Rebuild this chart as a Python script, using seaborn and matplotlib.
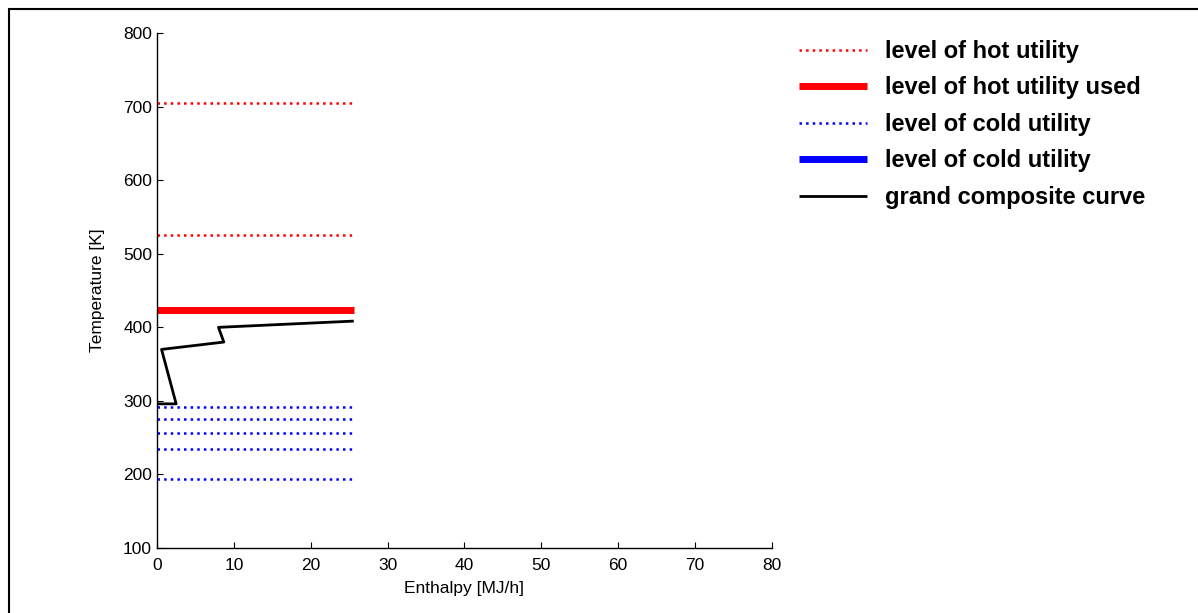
import numpy as np
import matplotlib
matplotlib.use("Agg")
import matplotlib.pyplot as plt
import seaborn as sns
from matplotlib.patches import Rectangle

# =========================
# DATA
# =========================

q_max = 25.6
hot_levels = [705, 525]
hot_used = 423
cold_levels = [292, 275, 256, 234, 194]

gcc_enthalpy = [0.0, 2.5, 0.6, 8.7, 8.0, 25.6]
gcc_temp = [296, 296, 370, 380, 400, 408.5]

labels = [
    "level of hot utility",
    "level of hot utility used",
    "level of cold utility",
    "level of cold utility",
    "grand composite curve",
]

# =========================
# STYLE
# =========================

sns.set_style("ticks")
plt.rcParams['font.family'] = ['Liberation Sans', 'DejaVu Sans']
plt.rcParams['text.color'] = 'black'
plt.rcParams['axes.labelcolor'] = 'black'
plt.rcParams['xtick.color'] = 'black'
plt.rcParams['ytick.color'] = 'black'
plt.rcParams['axes.edgecolor'] = 'black'

fig = plt.figure(figsize=(11.98, 6.13), dpi=100)
ax = fig.add_axes([0.131, 0.106, 0.5134, 0.840])

# hot utility levels
for i, t in enumerate(hot_levels):
    sns.lineplot(x=[0, q_max], y=[t, t], ax=ax, color="red", linestyle=":",
                 linewidth=1.8, label=labels[0] if i == 0 else None)

# hot utility used
sns.lineplot(x=[0, q_max], y=[hot_used, hot_used], ax=ax, color="red",
             linewidth=5, solid_capstyle="butt", label=labels[1])

# cold utility levels
for i, t in enumerate(cold_levels):
    sns.lineplot(x=[0, q_max], y=[t, t], ax=ax, color="blue", linestyle=":",
                 linewidth=1.8, label=labels[2] if i == 0 else None)

# cold utility used (nothing drawn)
ax.plot([], [], color="blue", linewidth=5, solid_capstyle="butt",
        label=labels[3])

# grand composite curve
ax.plot(gcc_enthalpy, gcc_temp, color="black", linewidth=2.0,
        solid_capstyle="butt", label=labels[4])

ax.set_xlim(0, 80)
ax.set_ylim(100, 800)
ax.set_xticks(np.arange(0, 81, 10))
ax.set_yticks(np.arange(100, 801, 100))
ax.tick_params(direction="in", length=4, labelsize=12.5, width=0.8)
ax.tick_params(axis="x", pad=7)
ax.set_xlabel("Enthalpy [MJ/h]", fontsize=12.5, labelpad=6)
ax.set_ylabel("Temperature [K]", fontsize=12.5, labelpad=13)
sns.despine(ax=ax)
for s in ["left", "bottom"]:
    ax.spines[s].set_linewidth(1.0)

handles, labs = ax.get_legend_handles_labels()
leg = ax.legend(handles, labs, loc="upper left", bbox_to_anchor=(1.009, 1.028),
                frameon=False, prop={"weight": "bold", "size": 17},
                handlelength=2.9, handletextpad=0.75, labelspacing=0.57)

# figure border (top and left visible)
fig.patches.append(Rectangle((9 / 1198, -0.1), 1.2, 1 - 9 / 613 + 0.1,
                             transform=fig.transFigure, fill=False,
                             edgecolor="black", linewidth=1.5))

fig.savefig("out.png", dpi=100)
